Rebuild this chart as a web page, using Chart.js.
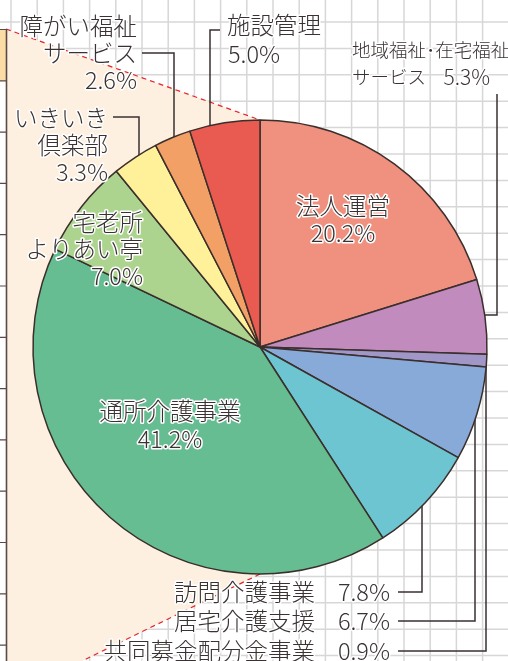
<!DOCTYPE html>
<html lang="ja">
<head>
<meta charset="utf-8">
<script src="https://cdn.jsdelivr.net/npm/chart.js"></script>
<style>
  html, body { margin: 0; padding: 0; background: #ffffff; }
  #wrap { width: 508px; height: 661px; }
</style>
</head>
<body>
<div id="wrap"><canvas id="pieChart" width="508" height="661"></canvas></div>
<script>
// Category names, clockwise from 12 o'clock.
var categories = [
    "法人運営",
    "地域福祉・在宅福祉サービス",
    "共同募金配分金事業",
    "居宅介護支援",
    "訪問介護事業",
    "通所介護事業",
    "宅老所よりあい亭",
    "いきいき倶楽部",
    "障がい福祉サービス",
    "施設管理"
];

// Share of each category (%).
var shares = [20.2, 5.3, 0.9, 6.7, 7.8, 41.2, 7.0, 3.3, 2.6, 5.0];

// How each name is broken onto lines in the labels.
var labelLines = [
    ["法人運営"],
    ["地域福祉･在宅福祉", "サービス"],
    ["共同募金配分金事業"],
    ["居宅介護支援"],
    ["訪問介護事業"],
    ["通所介護事業"],
    ["宅老所", "よりあい亭"],
    ["いきいき", "倶楽部"],
    ["障がい福祉", "サービス"],
    ["施設管理"]
];

var sliceColors = [
    "#f0907e", "#c28bbd", "#a096c8", "#87aad8", "#6cc5d0",
    "#66bd91", "#add48f", "#fef199", "#f2a066", "#e95b50"
];

var TEXT_COLOR = "#3a3232";
var LINE_COLOR = "#3a3030";
var FONT = "'Noto Sans CJK JP Light', 'Noto Sans CJK JP', 'Noto Sans', sans-serif";

/**
 * Paints the page background: grid paper, the neighbouring beige wedge and
 * the strip of the neighbouring bar on the left.
 */
var backgroundPlugin = {
    id: "backgroundPaper",
    beforeDraw: function (chart) {
        var ctx = chart.ctx;
        var w = chart.width;
        var h = chart.height;
        var arc = chart.getDatasetMeta(0).data[0];
        var cx = arc.x;
        var cy = arc.y;
        var r = arc.outerRadius;

        ctx.save();
        ctx.fillStyle = "#ffffff";
        ctx.fillRect(0, 0, w, h);

        // Grid paper.
        ctx.strokeStyle = "#d7d7d7";
        ctx.lineWidth = 1.5;
        ctx.beginPath();
        for (var gx = 11; gx < w; gx += 26.2) {
            ctx.moveTo(gx, 0);
            ctx.lineTo(gx, h);
        }
        for (var gy = 22; gy < h; gy += 26.4) {
            ctx.moveTo(0, gy);
            ctx.lineTo(w, gy);
        }
        ctx.stroke();

        // Beige wedge leading to the neighbouring chart.
        ctx.fillStyle = "#fdf0e0";
        ctx.beginPath();
        ctx.moveTo(6, 29);
        ctx.lineTo(cx, cy - r);
        ctx.lineTo(cx, cy + r);
        ctx.lineTo(82, h);
        ctx.lineTo(6, h);
        ctx.closePath();
        ctx.fill();

        // Red dashed edges of the wedge.
        ctx.strokeStyle = "#e8202a";
        ctx.lineWidth = 1.2;
        ctx.setLineDash([5, 4]);
        ctx.beginPath();
        ctx.moveTo(6, 29);
        ctx.lineTo(cx, cy - r);
        ctx.moveTo(cx, cy + r);
        ctx.lineTo(82, h);
        ctx.stroke();
        ctx.setLineDash([]);

        // Left strip: part of the neighbouring stacked bar.
        ctx.fillStyle = "#ffffff";
        ctx.fillRect(0, 29, 6, h - 29);
        ctx.fillStyle = "#fbdca4";
        ctx.fillRect(0, 29, 6, 52);
        ctx.strokeStyle = "#5a4a45";
        ctx.lineWidth = 1.2;
        ctx.beginPath();
        for (var ty = 29.5; ty < h; ty += 51.3) {
            ctx.moveTo(0, ty);
            ctx.lineTo(6, ty);
        }
        ctx.stroke();
        ctx.lineWidth = 1.6;
        ctx.beginPath();
        ctx.moveTo(6.5, 29);
        ctx.lineTo(6.5, h);
        ctx.stroke();
        ctx.restore();
    }
};

/**
 * Draws the leader lines (behind the pie) and the text labels (on top).
 */
var labelPlugin = {
    id: "pieLabels",
    beforeDatasetsDraw: function (chart) {
        var ctx = chart.ctx;
        var arc = chart.getDatasetMeta(0).data[0];
        var cx = arc.x;
        var cy = arc.y;
        var r = arc.outerRadius;

        // Point on the circle straight above / below x, or beside y.
        function edgeY(x, upper) {
            var d = Math.sqrt(Math.max(r * r - (x - cx) * (x - cx), 0));
            return upper ? cy - d : cy + d;
        }
        function edgeX(y) {
            return cx + Math.sqrt(Math.max(r * r - (y - cy) * (y - cy), 0));
        }

        ctx.save();
        ctx.strokeStyle = LINE_COLOR;
        ctx.lineWidth = 1.5;
        ctx.beginPath();
        // 施設管理
        ctx.moveTo(220, 30); ctx.lineTo(210, 30); ctx.lineTo(210, edgeY(210, true) + 4);
        // 障がい福祉サービス
        ctx.moveTo(142, 53); ctx.lineTo(174, 53); ctx.lineTo(174, edgeY(174, true) + 4);
        // いきいき倶楽部
        ctx.moveTo(113, 117); ctx.lineTo(139, 117); ctx.lineTo(139, edgeY(139, true) + 4);
        // 地域福祉・在宅福祉サービス
        ctx.moveTo(497, 94); ctx.lineTo(497, 315); ctx.lineTo(edgeX(315) - 4, 315);
        // 訪問介護事業 / 居宅介護支援 / 共同募金配分金事業
        ctx.moveTo(398, 592); ctx.lineTo(422, 592); ctx.lineTo(422, edgeY(422, false) - 4);
        ctx.moveTo(398, 621); ctx.lineTo(475, 621); ctx.lineTo(475, edgeY(475, false) - 4);
        ctx.moveTo(398, 651); ctx.lineTo(486, 651); ctx.lineTo(486, edgeY(486, false) - 4);
        ctx.stroke();
        ctx.restore();
    },
    afterDatasetsDraw: function (chart) {
        var ctx = chart.ctx;

        function pct(i) {
            return shares[i].toFixed(1) + "%";
        }

        function put(text, x, y, align, size) {
            ctx.font = "300 " + size + "px " + FONT;
            ctx.textAlign = align;
            ctx.textBaseline = "middle";
            ctx.lineJoin = "round";
            ctx.strokeStyle = "#ffffff";
            ctx.lineWidth = 3;
            ctx.strokeText(text, x, y);
            ctx.fillStyle = TEXT_COLOR;
            ctx.fillText(text, x, y);
        }

        // Stacked labels: lines, then the percentage on its own line.
        function stack(i, x, y, align, size, lh) {
            var lines = labelLines[i].concat([pct(i)]);
            lines.forEach(function (t, k) {
                put(t, x, y + k * lh, align, size);
            });
        }

        ctx.save();
        stack(0, 343, 206, "center", 23.5, 27);
        stack(5, 170, 411, "center", 23.5, 28);
        stack(6, 143, 222, "right", 23.5, 27);
        stack(7, 108, 118, "right", 23.5, 27);
        stack(8, 137, 26, "right", 23.5, 27);
        put(labelLines[9][0], 227, 25, "left", 23.5);
        put(pct(9), 228, 54, "left", 23.5);

        put(labelLines[1][0], 352, 50, "left", 18.5);
        put(labelLines[1][1], 352, 77, "left", 18.5);
        put(pct(1), 490, 77, "right", 21);

        [4, 3, 2].forEach(function (i, k) {
            var y = 592 + k * 29.5;
            put(labelLines[i][0], 315, y, "right", 23.5);
            put(pct(i), 390, y, "right", 23.5);
        });
        ctx.restore();
    }
};

document.addEventListener("DOMContentLoaded", function () {
    var ctx = document.getElementById("pieChart").getContext("2d");
    new Chart(ctx, {
        type: "pie",
        data: {
            labels: categories,
            datasets: [{
                data: shares,
                backgroundColor: sliceColors,
                borderColor: "#3a2f2c",
                borderWidth: 1.5
            }]
        },
        options: {
            responsive: false,
            animation: false,
            radius: 227,
            layout: {
                padding: {left: 12, right: 0, top: 33, bottom: 0}
            },
            plugins: {
                legend: {display: false},
                tooltip: {enabled: false}
            }
        },
        plugins: [backgroundPlugin, labelPlugin]
    });
});
</script>
</body>
</html>
